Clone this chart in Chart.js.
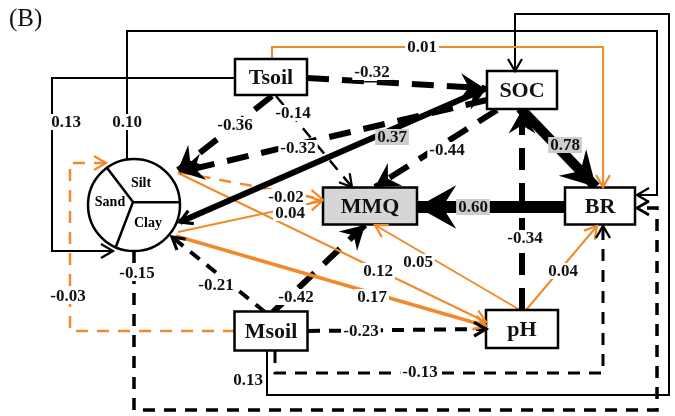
<!DOCTYPE html>
<html>
<head>
<meta charset="utf-8">
<script src="https://cdn.jsdelivr.net/npm/chart.js@4"></script>
<style>
  html, body { margin: 0; padding: 0; background: #fff; }
  canvas { display: block; }
</style>
</head>
<body>
<canvas id="diagrama" width="675" height="416"></canvas>
<script>
// variables of the model (Soil = soil texture circle)
const variables = ['Tsoil', 'Msoil', 'Soil', 'SOC', 'pH', 'MMQ', 'BR'];

// standardized path coefficients
const pathFrom = ['Tsoil', 'Tsoil', 'Tsoil', 'Tsoil', 'SOC', 'Soil', 'SOC', 'SOC', 'Soil', 'Soil', 'BR', 'pH', 'Soil',
                  'pH', 'Soil', 'pH', 'Msoil', 'Msoil', 'Msoil', 'Soil', 'Msoil', 'Msoil', 'Msoil', 'Tsoil', 'Soil'];
const pathTo   = ['BR', 'SOC', 'MMQ', 'Soil', 'Soil', 'SOC', 'MMQ', 'BR', 'MMQ', 'MMQ', 'MMQ', 'SOC', 'pH',
                  'MMQ', 'pH', 'BR', 'Soil', 'MMQ', 'Soil', 'BR', 'pH', 'SOC', 'BR', 'Soil', 'BR'];
const pathCoef = ['0.01', '-0.32', '-0.14', '-0.36', '-0.32', '0.37', '-0.44', '0.78', '-0.02', '0.04', '0.60', '-0.34', '0.12',
                  '0.05', '0.17', '0.04', '-0.21', '-0.42', '-0.03', '-0.15', '-0.23', '0.13', '-0.13', '0.13', '0.10'];

// ---- layout (diagram units = pixels of the figure) ----
const boxes = {
    Tsoil: [271, 77, 72, 36], SOC: [522, 90, 70, 38], BR: [600, 206, 70, 37],
    MMQ: [370, 206, 94, 37], pH: [522, 329, 72, 38], Msoil: [271, 331, 73, 39]
};
const circle = [134, 205, 46];

const routes = [
    [[272, 59], [272, 47], [603, 47], [603, 187]],
    [[307, 78], [484, 88]],
    [[276, 96], [352, 187]],
    [[272, 96], [178, 170]],
    [[487, 100], [180, 172]],
    [[180, 222], [487, 88]],
    [[497, 110], [375, 187]],
    [[520, 108], [596, 187]],
    [[178, 172], [322, 199]],
    [[178, 232], [322, 201]],
    [[565, 207], [417, 207]],
    [[522, 310], [522, 110]],
    [[178, 173], [486, 322]],
    [[520, 310], [375, 225]],
    [[176, 236], [486, 326]],
    [[526, 310], [597, 226]],
    [[265, 312], [172, 237]],
    [[273, 312], [365, 225]],
    [[235, 331], [70, 331], [70, 163], [106, 163]],
    [[134, 251], [134, 410], [657, 410], [657, 208], [637, 208]],
    [[308, 331], [486, 329]],
    [[267, 351], [267, 395], [669, 395], [669, 14], [515, 14], [515, 71]],
    [[275, 351], [275, 373], [603, 373], [603, 226]],
    [[235, 78], [52, 78], [52, 251], [113, 251]],
    [[127, 159], [127, 31], [657, 31], [657, 195], [637, 195]]
];
const labelPos = [[422, 47], [372, 72], [293, 113], [235, 125], [298, 148], [392, 137], [447, 150], [565, 145],
                  [286, 197], [290, 213], [473, 207], [525, 238], [378, 271], [418, 262], [372, 297], [563, 271],
                  [216, 285], [296, 297], [68, 296], [137, 273], [361, 331], [248, 380], [420, 372], [66, 122], [127, 122]];
// colour, width, dash
const ORANGE = '#f08a2c';
const lineColor = ['o', 'k', 'k', 'k', 'k', 'k', 'k', 'k', 'o', 'o', 'k', 'k', 'o', 'o', 'o', 'o', 'k', 'k', 'o', 'k', 'k', 'k', 'k', 'k', 'k'];
const lineWidth = [2, 6, 2.5, 6, 6, 6, 6, 10, 2.5, 2, 12, 6, 2, 2, 3.5, 2, 4, 6, 2.5, 3.5, 4, 2, 3, 2, 2];
const lineDashed = [0, 1, 1, 1, 1, 0, 1, 0, 1, 0, 0, 1, 0, 0, 0, 0, 1, 1, 1, 1, 1, 0, 1, 0, 0];
const grayLabel = [5, 7, 10];

function dashFor(i) {
    if (!lineDashed[i]) return [];
    const w = lineWidth[i];
    return w >= 5 ? [22, 13] : [12, 9];
}

function drawArrow(ctx, x1, y1, x2, y2, color, w) {
    const a = Math.atan2(y2 - y1, x2 - x1);
    ctx.save();
    ctx.translate(x2, y2);
    ctx.rotate(a);
    if (w <= 4) {
        ctx.strokeStyle = color;
        ctx.lineWidth = Math.max(2.2, w * 0.8);
        ctx.lineJoin = 'miter';
        ctx.beginPath();
        ctx.moveTo(-12, -7);
        ctx.lineTo(0, 0);
        ctx.lineTo(-12, 7);
        ctx.stroke();
    } else {
        const L = 2.6 * w + 8, H = 1.4 * w + 5;
        ctx.fillStyle = color;
        ctx.beginPath();
        ctx.moveTo(0, 0);
        ctx.lineTo(-L, -H);
        ctx.lineTo(-L * 0.65, 0);
        ctx.lineTo(-L, H);
        ctx.closePath();
        ctx.fill();
    }
    ctx.restore();
}

const diagramPlugin = {
    id: 'diagram',
    afterDatasetsDraw(chart) {
        const ctx = chart.ctx;
        const sx = chart.scales.x, sy = chart.scales.y;
        const px = v => sx.getPixelForValue(v), py = v => sy.getPixelForValue(v);
        ctx.save();

        // soil texture circle
        const cx = px(circle[0]), cy = py(circle[1]);
        const r = px(circle[0] + circle[2]) - cx;
        ctx.beginPath();
        ctx.arc(cx, cy, r, 0, Math.PI * 2);
        ctx.fillStyle = '#fff';
        ctx.fill();
        ctx.lineWidth = 2.5;
        ctx.strokeStyle = '#000';
        ctx.stroke();
        const ccx = cx - 1, ccy = cy - 3;
        ctx.beginPath();
        ctx.moveTo(ccx, ccy); ctx.lineTo(cx + r * Math.cos(-2.2), cy + r * Math.sin(-2.2));
        ctx.moveTo(ccx, ccy); ctx.lineTo(cx + r * Math.cos(-0.06), cy + r * Math.sin(-0.06));
        ctx.moveTo(ccx, ccy); ctx.lineTo(cx + r * Math.cos(1.98), cy + r * Math.sin(1.98));
        ctx.stroke();
        ctx.fillStyle = '#000';
        ctx.font = 'bold 14px "Liberation Serif"';
        ctx.textAlign = 'center';
        ctx.textBaseline = 'middle';
        ctx.fillText('Silt', cx + 7, cy - 22);
        ctx.fillText('Sand', cx - 24, cy - 3);
        ctx.fillText('Clay', cx + 14, cy + 18);

        // variable boxes
        Object.keys(boxes).forEach(name => {
            const [bx, by, bw, bh] = boxes[name];
            const x0 = px(bx - bw / 2), y0 = py(by - bh / 2);
            const w = px(bx + bw / 2) - x0, h = py(by + bh / 2) - y0;
            ctx.fillStyle = name === 'MMQ' ? '#d6d6d6' : '#fff';
            ctx.fillRect(x0, y0, w, h);
            ctx.lineWidth = 2.5;
            ctx.strokeStyle = '#000';
            ctx.strokeRect(x0, y0, w, h);
            ctx.fillStyle = '#111';
            ctx.font = 'bold 22px "Liberation Serif"';
            ctx.fillText(name, px(bx), py(by) + 1);
        });

        // arrow heads
        chart.data.datasets.forEach((ds, i) => {
            const pts = chart.getDatasetMeta(i).data;
            const n = pts.length;
            const col = ds.borderColor;
            drawArrow(ctx, pts[n - 2].x, pts[n - 2].y, pts[n - 1].x, pts[n - 1].y, col, lineWidth[i]);
            if (i === 5) drawArrow(ctx, pts[1].x, pts[1].y, pts[0].x, pts[0].y, col, 4);
        });

        // coefficients
        ctx.font = 'bold 17px "Liberation Serif"';
        pathCoef.forEach((txt, i) => {
            const x = px(labelPos[i][0]), y = py(labelPos[i][1]);
            const tw = ctx.measureText(txt).width;
            ctx.fillStyle = grayLabel.includes(i) ? '#cdcdcd' : '#fff';
            ctx.fillRect(x - tw / 2 - 2, y - 8, tw + 4, 16);
            ctx.fillStyle = '#111';
            ctx.fillText(txt, x, y + 1);
            if (i === 1) {
                ctx.fillRect(x - tw / 2 + 2, y + 9, tw - 2, 1.5);
            }
        });

        ctx.font = '25px "Liberation Serif"';
        ctx.textAlign = 'left';
        ctx.fillText('(B)', px(9), py(19));
        ctx.restore();
    }
};

const ctx = document.getElementById('diagrama').getContext('2d');
new Chart(ctx, {
    type: 'scatter',
    data: {
        datasets: routes.map((r, i) => ({
            label: pathFrom[i] + ' → ' + pathTo[i] + ' (' + pathCoef[i] + ')',
            data: r.map(p => ({ x: p[0], y: p[1] })),
            showLine: true,
            borderColor: lineColor[i] === 'o' ? ORANGE : '#000',
            borderWidth: lineWidth[i],
            borderDash: dashFor(i),
            borderCapStyle: 'butt',
            borderJoinStyle: 'miter',
            pointRadius: 0,
            fill: false,
            tension: 0
        }))
    },
    options: {
        responsive: false,
        devicePixelRatio: 1,
        animation: false,
        layout: { padding: 0 },
        scales: {
            x: { type: 'linear', min: 0, max: 675, display: false },
            y: { type: 'linear', min: 0, max: 416, reverse: true, display: false }
        },
        plugins: {
            legend: { display: false },
            tooltip: { enabled: false }
        }
    },
    plugins: [diagramPlugin]
});
</script>
</body>
</html>
